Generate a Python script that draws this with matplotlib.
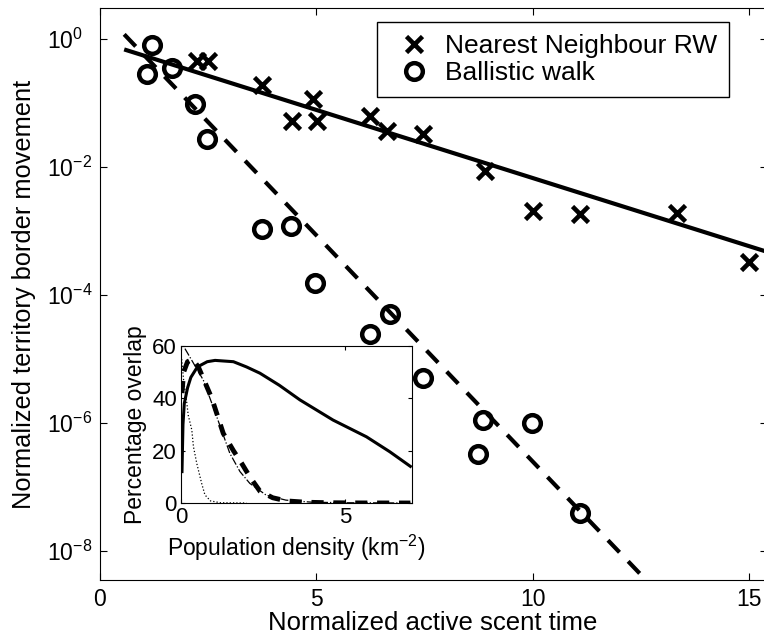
import matplotlib
matplotlib.use("Agg")
import matplotlib.pyplot as plt
from matplotlib.ticker import FixedLocator, LogFormatterMathtext, NullLocator

plt.rcParams["font.family"] = ["Liberation Sans", "DejaVu Sans"]
plt.rcParams["mathtext.fontset"] = "custom"
plt.rcParams["mathtext.rm"] = "Liberation Sans"
plt.rcParams["mathtext.it"] = "Liberation Sans"

# main panel: scattered measurements
nn_x = [2.24, 2.51, 3.75, 4.44, 4.94, 5.02, 6.25, 6.63, 7.48, 8.90, 10.02, 11.10, 13.33, 15.0]
nn_y = [0.45, 0.45, 0.19, 0.051, 0.115, 0.051, 0.062, 0.036, 0.032, 0.0085, 0.0020, 0.0018, 0.0019, 0.00032]
bw_x = [1.09, 1.21, 1.67, 2.21, 2.48, 3.75, 4.42, 4.98, 6.25, 6.71, 7.48, 8.75, 8.86, 9.98, 11.10]
bw_y = [0.28, 0.81, 0.35, 0.094, 0.027, 1.07e-3, 1.18e-3, 1.5e-4, 2.4e-5, 4.9e-5, 5.0e-6, 3.2e-7, 1.1e-6, 1.0e-6, 3.9e-8]

# exponential fits (end points of the straight lines on the log axis)
nn_fit_x = [0.57, 15.4]
nn_fit_y = [0.68, 4.7e-4]
bw_fit_x = [0.57, 12.5]
bw_fit_y = [1.17, 4.2e-9]

# inset: overlap vs population density
solid_x = [0.03, 0.06, 0.1, 0.2, 0.3, 0.5, 0.8, 1.04, 1.6, 2.0, 2.41, 3.0, 3.63, 4.64, 5.66, 6.37, 7.0]
solid_y = [12, 30, 38, 44, 48, 52, 54, 54.5, 54, 52, 49.6, 45, 39.4, 31.7, 25.3, 19.6, 14]
dash_x = [0.03, 0.08, 0.2, 0.35, 0.53, 0.94, 1.29, 1.6, 1.85, 2.1, 2.41, 2.8, 3.22, 3.8, 4.5, 5.5, 7.0]
dash_y = [42, 50, 54, 55, 52, 40, 26.6, 20, 15.2, 10, 4.5, 2, 0.8, 0.3, 0.1, 0.02, 0]
dashdot_x = [0.12, 0.4, 0.68, 1.09, 1.49, 1.8, 2.1, 2.6, 3.2, 4.0, 5.0, 7.0]
dashdot_y = [59, 53, 47, 33, 19, 12, 7.5, 3, 1.1, 0.3, 0.1, 0]
dot_x = [0.02, 0.08, 0.17, 0.22, 0.33, 0.38, 0.48, 0.63, 0.73, 0.9, 1.2, 2.0]
dot_y = [55, 47, 39, 33.6, 27.9, 21.5, 15.2, 7.5, 3.1, 0.8, 0.1, 0]

fig = plt.figure(figsize=(7.64, 6.44), dpi=100)
ax = fig.add_axes([99.5 / 764, 1 - 580 / 644, 667 / 764, 572 / 644])

ax.plot(nn_fit_x, nn_fit_y, color="k", lw=3, solid_capstyle="butt")
ax.plot(bw_fit_x, bw_fit_y, color="k", lw=3, ls=(0, (4, 3)))
ax.plot(nn_x, nn_y, ls="none", marker="x", ms=12, mew=3.3, color="k",
        label="Nearest Neighbour RW")
ax.plot(bw_x, bw_y, ls="none", marker="o", ms=12, mew=3.2, mfc="none", mec="k",
        label="Ballistic walk")

ax.set_yscale("log")
ax.set_xlim(0, 15.4)
ax.set_ylim(10 ** -8.46, 10 ** 0.48)
ax.yaxis.set_major_locator(FixedLocator([1e0, 1e-2, 1e-4, 1e-6, 1e-8]))
ax.yaxis.set_major_formatter(LogFormatterMathtext())
ax.yaxis.set_minor_locator(NullLocator())
ax.set_xticks([0, 5, 10, 15])
ax.tick_params(direction="in", top=True, right=True, labelsize=16.5, length=5)
# y tick labels are left aligned, MATLAB style
ax.tick_params(axis="y", pad=37.5)
for lab in ax.get_yticklabels():
    lab.set_horizontalalignment("left")
ax.tick_params(axis="x", pad=6)
ax.set_xlabel("Normalized active scent time", fontsize=18.5, labelpad=0)
ax.set_ylabel("Normalized territory border movement", fontsize=18.3, labelpad=8)

leg = ax.legend(loc="upper right", bbox_to_anchor=(0.944, 0.9755), fontsize=19,
                fancybox=False, edgecolor="k", framealpha=1, handletextpad=0.2,
                borderpad=0.45, labelspacing=0.12, handlelength=1.95,
                borderaxespad=0)
leg.get_frame().set_linewidth(1)

# inset
ins = fig.add_axes([181 / 764, 1 - 503 / 644, 231 / 764, 157 / 644])
ins.plot(solid_x, solid_y, color="k", lw=2.2)
ins.plot(dash_x, dash_y, color="k", lw=3.5, ls=(0, (2.5, 2)))
ins.plot(dashdot_x, dashdot_y, color="k", lw=0.9, ls="-.")
ins.plot(dot_x, dot_y, color="k", lw=0.9, ls=":")
ins.set_xlim(0, 7.05)
ins.set_ylim(0, 60)
ins.set_xticks([0, 5])
ins.set_yticks([0, 20, 40, 60])
ins.tick_params(direction="in", top=True, right=True, labelsize=16, length=3, pad=3)
ins.set_xlabel("Population density (km$^{-2}$)", fontsize=16.5, labelpad=3)
ins.set_ylabel("Percentage overlap", fontsize=16.5, labelpad=4)

fig.savefig("out.png", dpi=100)
